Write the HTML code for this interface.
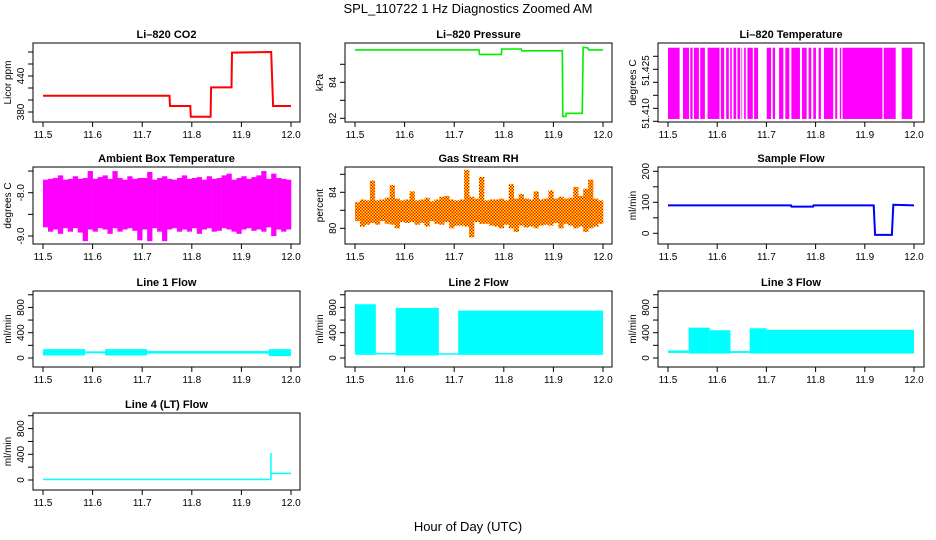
<!DOCTYPE html>
<html><head><meta charset="utf-8"><style>
html,body{margin:0;padding:0;background:#fff;}
svg{display:block;font-family:"Liberation Sans",Arial,sans-serif;}
</style></head><body>
<svg id="chart" width="936" height="540" viewBox="0 0 936 540" xmlns="http://www.w3.org/2000/svg">
<defs>
<pattern id="rhpat" width="3" height="3" patternUnits="userSpaceOnUse">
<rect width="3" height="3" fill="#ffff00"/><rect x="0" y="0" width="1.5" height="1.5" fill="#ff0000"/><rect x="1.5" y="1.5" width="1.5" height="1.5" fill="#ff0000"/>
</pattern>
</defs>
<text x="468" y="13" text-anchor="middle" font-size="13">SPL_110722  1 Hz Diagnostics Zoomed AM</text>
<text x="468" y="531" text-anchor="middle" font-size="13">Hour of Day (UTC)</text>
</svg>
<script>
// ---- data ----
const xTicks = [11.5, 11.6, 11.7, 11.8, 11.9, 12.0];
const xTickLabels = ["11.5", "11.6", "11.7", "11.8", "11.9", "12.0"];

const co2T = [11.5, 11.755, 11.756, 11.797, 11.798, 11.838, 11.839, 11.88, 11.881, 11.96, 11.964, 12.0];
const co2V = [407, 407, 390, 390, 372, 372, 421, 421, 479, 480, 390, 390];

const presT = [11.5, 11.75, 11.751, 11.795, 11.796, 11.835, 11.836, 11.918, 11.919, 11.925, 11.926, 11.958, 11.96, 11.97, 11.971, 12.0];
const presV = [85.8, 85.8, 85.55, 85.55, 85.85, 85.85, 85.75, 85.75, 82.1, 82.1, 82.28, 82.28, 85.95, 85.9, 85.8, 85.8];

const tempLo = 51.4059, tempHi = 51.4333;
const tempGapStart = [11.5236,11.5426,11.55,11.5628,11.575,11.6047,11.6142,11.6236,11.6297,11.6385,11.6466,11.6507,11.6581,11.6723,11.6831,11.7095,11.7176,11.7345,11.7466,11.7682,11.7818,11.7912,11.8007,11.8108,11.8358,11.8439,11.852,11.9358,11.9628,11.9966];
const tempGapEnd   = [11.5304,11.5453,11.5527,11.5655,11.5804,11.6074,11.6182,11.6264,11.6331,11.6412,11.6493,11.6547,11.6615,11.675,11.7007,11.7128,11.7257,11.7385,11.7507,11.7723,11.7858,11.7953,11.8061,11.8169,11.8399,11.8493,11.8547,11.9385,11.975,12.0];

const ambHi = [-7.7,-7.68,-7.66,-7.6,-7.7,-7.68,-7.62,-7.68,-7.66,-7.5,-7.68,-7.64,-7.6,-7.68,-7.5,-7.66,-7.7,-7.62,-7.68,-7.66,-7.66,-7.52,-7.7,-7.66,-7.62,-7.68,-7.7,-7.66,-7.6,-7.68,-7.66,-7.64,-7.7,-7.62,-7.68,-7.66,-7.6,-7.56,-7.7,-7.66,-7.62,-7.68,-7.64,-7.6,-7.5,-7.68,-7.56,-7.66,-7.68,-7.7];
const ambLo = [-8.8,-8.9,-8.85,-8.95,-8.82,-8.9,-8.82,-8.92,-9.12,-8.85,-8.9,-8.82,-8.85,-8.95,-8.82,-8.9,-8.85,-8.82,-8.88,-9.1,-8.85,-9.12,-8.82,-8.9,-9.12,-8.85,-8.82,-8.9,-8.85,-8.9,-8.82,-8.95,-8.85,-8.82,-8.9,-8.88,-8.82,-8.85,-8.9,-8.95,-8.85,-8.82,-8.88,-8.85,-8.9,-8.8,-9.0,-8.85,-8.9,-8.85];

const rhHi = [82.9,83.2,83.1,85.3,83.1,83.2,83.4,84.8,83.3,83.1,83.2,84.1,83.1,83.2,83.4,83.0,83.2,83.5,83.6,83.2,83.1,83.2,86.5,83.5,83.3,85.7,83.1,83.2,83.2,83.3,83.1,84.9,83.3,83.8,83.3,83.2,84.1,83.2,83.3,84.2,83.3,83.5,83.3,83.4,84.6,83.6,84.4,85.4,83.3,83.1];
const rhLo = [80.8,80.2,80.4,80.6,80.4,80.8,80.5,80.4,80.0,80.7,80.6,80.7,80.4,80.6,80.2,80.8,80.5,80.4,80.7,80.0,80.3,80.3,80.2,79.0,80.7,80.5,80.5,80.3,80.2,80.0,80.4,80.0,79.6,80.3,80.1,80.2,80.0,80.3,80.4,80.3,80.6,80.0,80.5,80.3,80.0,80.2,79.6,80.0,80.2,80.5];

const sampT = [11.5, 11.75, 11.751, 11.795, 11.796, 11.918, 11.921, 11.955, 11.958, 12.0];
const sampV = [90, 90, 86, 86, 90, 90, -5, -5, 92, 90];

const line1Start = [11.5, 11.585, 11.625, 11.71, 11.955];
const line1End   = [11.585, 11.625, 11.71, 11.955, 12.0];
const line1Lo    = [40, 75, 40, 70, 30];
const line1Hi    = [140, 105, 140, 110, 140];

const line2Start = [11.5, 11.542, 11.582, 11.669, 11.708];
const line2End   = [11.542, 11.582, 11.669, 11.708, 12.0];
const line2Lo    = [50, 60, 40, 55, 50];
const line2Hi    = [850, 80, 790, 75, 750];

const line3Start = [11.5, 11.542, 11.585, 11.627, 11.666, 11.7];
const line3End   = [11.542, 11.585, 11.627, 11.666, 11.7, 12.0];
const line3Lo    = [80, 70, 70, 80, 70, 70];
const line3Hi    = [120, 480, 440, 110, 470, 445];

const line4Start = [11.5, 11.958, 11.96];
const line4End   = [11.958, 11.96, 12.0];
const line4Lo    = [5, 0, 90];
const line4Hi    = [20, 420, 115];

// ---- layout ----
const NS = "http://www.w3.org/2000/svg";
const svg = document.getElementById("chart");
const cols = [{x0:33,x1:300,ta:43,tb:291},{x0:345,x1:612,ta:355,tb:603},{x0:658,x1:924,ta:668,tb:914}];
const rows = [{y0:43,y1:122},{y0:167,y1:244},{y0:291,y1:367},{y0:413,y1:490}];

function mk(tag, attrs, parent){
  const e = document.createElementNS(NS, tag);
  for (const k in attrs) e.setAttribute(k, attrs[k]);
  (parent||svg).appendChild(e);
  return e;
}

function panel(name, title, ytitle, c, r, v1, p1, v2, p2, yTicks, yLabels){
  const C = cols[c], R = rows[r];
  const g = mk("g", {});
  
  
  const P = {
    g, C, R,
    x: t => C.ta + (t - 11.5) / 0.5 * (C.tb - C.ta),
    y: v => p1 + (v - v1) / (v2 - v1) * (p2 - p1)
  };
  const clip = mk("clipPath", {id: "clip-" + name}, g);
  mk("rect", {x:C.x0, y:R.y0, width:C.x1-C.x0, height:R.y1-R.y0}, clip);
  P.plot = mk("g", {"clip-path": "url(#clip-" + name + ")"}, g);
  
  
  const t = mk("text", {x:(C.x0+C.x1)/2, y:R.y0-5, "text-anchor":"middle", "font-size":"11", "font-weight":"bold"}, g);
  t.textContent = title;
  
  
  const yt = mk("text", {x:C.x0-22, y:(R.y0+R.y1)/2, "text-anchor":"middle", "font-size":"10", transform:"rotate(-90 " + (C.x0-22) + " " + ((R.y0+R.y1)/2) + ")"}, g);
  yt.textContent = ytitle;
  
  
  xTicks.forEach((tv, i) => {
    const px = P.x(tv);
    const tk = mk("line", {x1:px, x2:px, y1:R.y1, y2:R.y1+5, stroke:"#000"}, g);
    
    
    const lb = mk("text", {x:px, y:R.y1+16, "text-anchor":"middle", "font-size":"10"}, g);
    lb.textContent = xTickLabels[i];
    
    
  });
  yTicks.forEach(v => {
    const py = P.y(v);
    const tk = mk("line", {x1:C.x0-5, x2:C.x0, y1:py, y2:py, stroke:"#000"}, g);
    
    
  });
  yLabels.forEach(l => {
    const py = P.y(l[0]);
    const lb = mk("text", {x:C.x0-9, y:py, "text-anchor":"middle", "font-size":"10", transform:"rotate(-90 " + (C.x0-9) + " " + py + ")"}, g);
    lb.textContent = l[1];
    
    
  });
  P.finish = () => {
    const b = mk("rect", {x:C.x0, y:R.y0, width:C.x1-C.x0, height:R.y1-R.y0, fill:"none", stroke:"#000", "stroke-width":"1"}, g);
    
    
  };
  return P;
}

function stepLine(P, ts, vs, color, w, name){
  const pts = ts.map((t, i) => P.x(t).toFixed(1) + "," + P.y(vs[i]).toFixed(1)).join(" ");
  const l = mk("polyline", {points:pts, fill:"none", stroke:color, "stroke-width":w}, P.plot);
  
  
}

function envelope(P, his, los, fill, name){
  const n = his.length;
  const dt = 0.5 / n;
  for (let i = 0; i < n; i++) {
    const xa = P.x(11.5 + i*dt), xb = P.x(11.5 + (i+1)*dt);
    const ya = P.y(his[i]), yb = P.y(los[i]);
    const r = mk("rect", {x:xa, y:Math.min(ya,yb), width:xb-xa+0.3, height:Math.abs(yb-ya), fill:fill}, P.plot);
    
    
  }
}

function segments(P, s, e, lo, hi, color, name){
  s.forEach((t, i) => {
    const xa = P.x(t), xb = P.x(e[i]);
    const ya = P.y(hi[i]), yb = P.y(lo[i]);
    const r = mk("rect", {x:xa, y:ya, width:Math.max(xb-xa,1.5), height:Math.max(yb-ya,1.5), fill:color}, P.plot);
    
    
  });
}

let P = panel("co2", "Li\u2013820 CO2", "Licor ppm", 0, 0, 380, 112, 440, 76,
  [380,400,420,440,460,480], [[380,"380"],[440,"440"]]);
stepLine(P, co2T, co2V, "#ff0000", 2, "co2-line");
P.finish();

P = panel("pressure", "Li\u2013820 Pressure", "kPa", 1, 0, 84, 82.3, 82, 118.3,
  [82,83,84,85], [[82,"82"],[84,"84"]]);
stepLine(P, presT, presV, "#00ee00", 1.6, "pressure-line");
P.finish();

P = panel("licor-temp", "Li\u2013820 Temperature", "degrees C", 2, 0, 51.41, 108.3, 51.415, 95.3,
  [51.405,51.41,51.415,51.42,51.425,51.43], [[51.408,"51.410"],[51.4245,"51.425"]]);
(function(){
  let cur = 11.5;
  const ya = P.y(tempHi), yb = P.y(tempLo);
  const bounds = tempGapStart.map((s,i)=>[s,tempGapEnd[i]]);
  bounds.push([12.0,12.0]);
  bounds.forEach(b => {
    if (b[0] > cur) {
      const r = mk("rect", {x:P.x(cur), y:ya, width:P.x(b[0])-P.x(cur), height:yb-ya, fill:"#ff00ff"}, P.plot);
      
      
    }
    cur = b[1];
  });
})();
P.finish();

P = panel("ambient-temp", "Ambient Box Temperature", "degrees C", 0, 1, -8, 192.7, -9, 236,
  [-9,-8.5,-8,-7.5], [[-9,"-9.0"],[-8,"-8.0"]]);
envelope(P, ambHi, ambLo, "#ff00ff", "ambient-temp-band");
P.finish();

P = panel("gas-rh", "Gas Stream RH", "percent", 1, 1, 84, 192.3, 80, 228.3,
  [80,82,84,86], [[80,"80"],[84,"84"]]);
envelope(P, rhHi, rhLo, "url(#rhpat)", "gas-rh-band");
P.finish();

P = panel("sample-flow", "Sample Flow", "ml/min", 2, 1, 0, 233.3, 100, 202.3,
  [0,50,100,150,200], [[0,"0"],[100,"100"],[200,"200"]]);
stepLine(P, sampT, sampV, "#0000ff", 2, "sample-flow-line");
P.finish();

const flowTicks = [0,200,400,600,800,1000];
const flowLabels = [[0,"0"],[400,"400"],[800,"800"]];
P = panel("line1-flow", "Line 1 Flow", "ml/min", 0, 2, 0, 358, 800, 307.4, flowTicks, flowLabels);
segments(P, line1Start, line1End, line1Lo, line1Hi, "#00ffff", "line1-flow-band");
P.finish();
P = panel("line2-flow", "Line 2 Flow", "ml/min", 1, 2, 0, 358, 800, 307.4, flowTicks, flowLabels);
segments(P, line2Start, line2End, line2Lo, line2Hi, "#00ffff", "line2-flow-band");
P.finish();
P = panel("line3-flow", "Line 3 Flow", "ml/min", 2, 2, 0, 358, 800, 307.4, flowTicks, flowLabels);
segments(P, line3Start, line3End, line3Lo, line3Hi, "#00ffff", "line3-flow-band");
P.finish();
P = panel("line4-flow", "Line 4 (LT) Flow", "ml/min", 0, 3, 0, 480, 400, 454.3, flowTicks, flowLabels);
segments(P, line4Start, line4End, line4Lo, line4Hi, "#00ffff", "line4-flow-band");
P.finish();
</script>
</body></html>
